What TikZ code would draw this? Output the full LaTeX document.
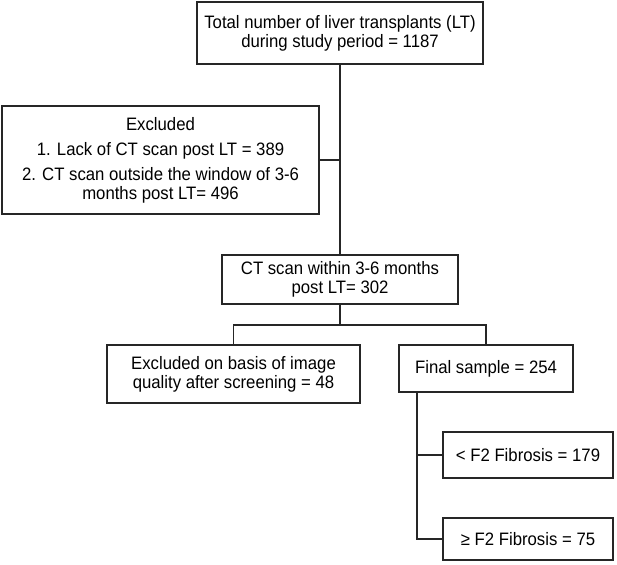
\documentclass[tikz,border=0pt]{standalone}
\usepackage{fontspec}
\setmainfont{Liberation Sans}[FakeStretch=0.93]
\usepackage{tikz}
\usetikzlibrary{calc,positioning}

\begin{document}
\begin{tikzpicture}[x=1pt,y=-1pt]
        \tikzstyle{fbox} = [draw=black!85, line width=1.3pt, rectangle, inner sep=2pt, align=center,
          font=\fontsize{18}{19}\selectfont]
        \tikzstyle{link} = [draw=black!85, line width=1.3pt]
        \useasboundingbox (0,0) rectangle (617,564);

        \node[fbox, minimum width=286, minimum height=62] (total) at (340,33)
          {Total number of liver transplants (LT)\\during study period = 1187};
        \node[fbox, minimum width=317, minimum height=108] (excl) at (160.5,160)
          {Excluded\\[6pt]1. Lack of CT scan post LT = 389\\[6pt]2. CT scan outside the window of 3-6\\months post LT= 496};
        \node[fbox, minimum width=236, minimum height=49] (ct) at (340,279.5)
          {CT scan within 3-6 months\\post LT= 302};
        \node[fbox, minimum width=253, minimum height=58] (qual) at (233.5,374)
          {Excluded on basis of image\\quality after screening = 48};
        \node[fbox, minimum width=174, minimum height=47] (final) at (486,368.5)
          {Final sample = 254};
        \node[fbox, minimum width=170, minimum height=46] (lowf) at (528,455)
          {< F2 Fibrosis = 179};
        \node[fbox, minimum width=170, minimum height=42] (highf) at (528,539)
          {≥ F2 Fibrosis = 75};

        \coordinate (split) at (340,325);
        \coordinate (rail) at (417,392);

        \draw[link] (total) -- (ct);
        \draw[link] (excl.east) -- (excl.east -| total.south);
        \draw[link] (ct) -- (split);
        \draw[link] (qual.north) |- (split) -| (final.north);
        \draw[link] (rail) |- (highf.west);
        \draw[link] (rail |- lowf.west) -- (lowf.west);
      \end{tikzpicture}
\end{document}
